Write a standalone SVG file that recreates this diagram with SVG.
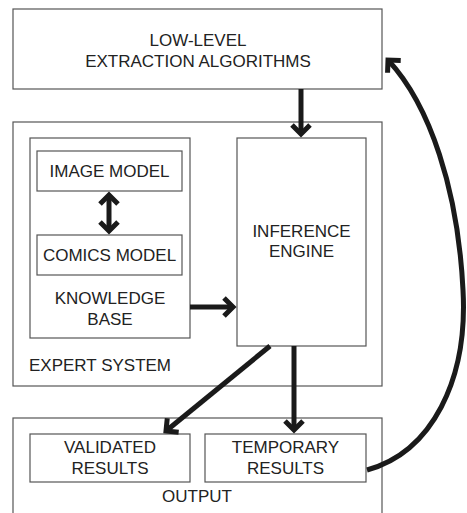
<svg xmlns="http://www.w3.org/2000/svg" width="467" height="513" viewBox="0 0 467 513">
<defs>
<style>
.box{fill:#fff;stroke:#555;stroke-width:1.2}
.t{font-family:"Liberation Sans",Arial,sans-serif;font-size:17px;fill:#222;text-anchor:middle}
.tl{text-anchor:start}
.c{fill:none;stroke:#1a1a1a;stroke-width:5}
</style>
<marker id="ah" markerUnits="userSpaceOnUse" viewBox="-14 -12 16 24" refX="0" refY="0" markerWidth="16" markerHeight="24" orient="auto-start-reverse" overflow="visible">
<path d="M-9,-9 L0,0 L-9,9" fill="none" stroke="#1a1a1a" stroke-width="5"/>
</marker>
</defs>
<rect width="467" height="513" fill="#fff"/>
<g id="low-level">
<rect class="box" x="13" y="9" width="369" height="80"/>
<text class="t" x="198" y="46">LOW-LEVEL</text>
<text class="t" x="198" y="67">EXTRACTION ALGORITHMS</text>
</g>
<g id="expert-system">
<rect class="box" x="13" y="122" width="369" height="264"/>
<text class="t tl" x="29" y="371">EXPERT SYSTEM</text>
</g>
<g id="knowledge-base">
<rect class="box" x="30" y="138" width="160" height="200"/>
<text class="t" x="110" y="304">KNOWLEDGE</text>
<text class="t" x="110" y="325">BASE</text>
</g>
<g id="image-model">
<rect class="box" x="37" y="151" width="145" height="40"/>
<text class="t" x="109.5" y="177">IMAGE MODEL</text>
</g>
<g id="comics-model">
<rect class="box" x="37" y="235" width="145" height="40"/>
<text class="t" x="109.5" y="261">COMICS MODEL</text>
</g>
<g id="inference-engine">
<rect class="box" x="237" y="138" width="129" height="208"/>
<text class="t" x="301.5" y="237">INFERENCE</text>
<text class="t" x="301.5" y="257">ENGINE</text>
</g>
<g id="output">
<rect class="box" x="13" y="418" width="369" height="110"/>
<text class="t" x="197" y="502">OUTPUT</text>
</g>
<g id="validated-results">
<rect class="box" x="30" y="434" width="160" height="48"/>
<text class="t" x="110" y="453">VALIDATED</text>
<text class="t" x="110" y="474">RESULTS</text>
</g>
<g id="temporary-results">
<rect class="box" x="205" y="434" width="161" height="48"/>
<text class="t" x="285.5" y="453">TEMPORARY</text>
<text class="t" x="285.5" y="474">RESULTS</text>
</g>
<g id="connectors">
<path class="c" d="M301,89 V134" marker-end="url(#ah)"/>
<path class="c" d="M109,195 V231" marker-start="url(#ah)" marker-end="url(#ah)"/>
<path class="c" d="M190,307 H233" marker-end="url(#ah)"/>
<path class="c" d="M270,346 L166,431" marker-end="url(#ah)"/>
<path class="c" d="M294,346 V430" marker-end="url(#ah)"/>
<path class="c" d="M367,470 C432,452 468,380 463,290 C458,190 430,105 388,60" marker-end="url(#ah)"/>
</g>
</svg>
